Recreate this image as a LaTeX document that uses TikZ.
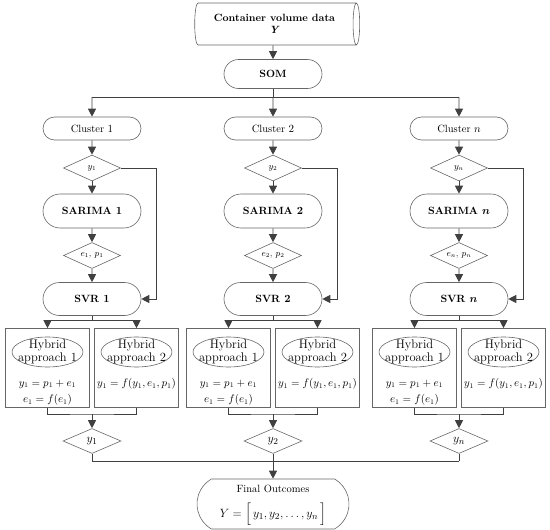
\documentclass[tikz,border=0pt]{standalone}
\usepackage{amsmath, amssymb}
\usepackage{tikz}
\usetikzlibrary{shapes.geometric,shapes.misc,arrows.meta}

\newcommand{\tamtxt}{\fontsize{10.5}{12.5}\selectfont}

\begin{document}
\begin{tikzpicture}[x=1pt,y=-1pt,font=\tamtxt,
  borde/.style={draw=black!60,line width=0.6pt},
  term/.style={borde,rounded rectangle,minimum width=102pt,inner sep=2pt},
  decision/.style={borde,diamond,aspect=2.2,minimum width=57pt,minimum height=26pt,inner sep=0pt},
  hbox/.style={borde,rectangle,minimum width=84pt,minimum height=79pt},
  hyb/.style={borde,ellipse,minimum width=71pt,minimum height=30pt,inner sep=-12pt,
    align=center,font=\fontsize{12.5}{13}\selectfont},
  flecha/.style={draw=black!75,line width=0.9pt,-{Triangle[width=8pt,length=8pt]}},
  linea/.style={draw=black!75,line width=0.9pt}]
  \useasboundingbox (0,0) rectangle (550,530);

  % Datos de entrada y SOM
  \node[borde,cylinder,aspect=0.25,minimum width=42pt,minimum height=165pt,align=center,
    font=\tamtxt\bfseries] (datos) at (274.5,24) {Container volume data\\\textit{Y}};
  \node[term,minimum height=29pt,font=\tamtxt\bfseries] (som) at (273,74) {SOM};
  \draw[flecha] (datos.south -| som) -- (som);

  % Una columna por cluster
  \foreach \i/\cx/\k in {1/92/1, 2/273/2, 3/459/n}{
    \coordinate (bus\i) at (\cx,97);
    \node[term,minimum height=23pt] (cl\i) at (\cx,128.5) {Cluster $\k$};
    \node[decision,font=\fontsize{9}{10}\selectfont] (ya\i) at (\cx,168) {$y_\k$};
    \node[term,minimum height=34pt,font=\tamtxt\bfseries] (sar\i) at (\cx,211) {SARIMA {\boldmath$\k$}};
    \node[decision,font=\fontsize{9}{10}\selectfont] (yb\i) at (\cx,255.5) {$e_\k$, $p_\k$};
    \node[term,minimum height=33pt,font=\tamtxt\bfseries] (svr\i) at (\cx,299) {SVR {\boldmath$\k$}};

    \node[hbox] (ha\i) at ({\cx-44.5},368) {};
    \node[hbox] (hb\i) at ({\cx+44.5},368) {};
    \node[hyb] (ea\i) at ({\cx-44.5},352) {Hybrid\\approach 1};
    \node[hyb] (eb\i) at ({\cx+44.5},352) {Hybrid\\approach 2};
    \node (fa\i) at ({\cx-44.5},384) {$y_1 = p_1 + e_1$};
    \node (fb\i) at ({\cx-44.5},400) {$e_1 = f(e_1)$};
    \node (fc\i) at ({\cx+44.5},384) {$y_1 = f(y_1, e_1, p_1)$};

    \coordinate (mg\i) at (\cx,414);
    \node[decision,minimum width=58pt,minimum height=25pt,font=\fontsize{12.5}{13}\selectfont] (yo\i) at (\cx,441) {$y_\k$};
    \coordinate (bb\i) at (\cx,461);

    \draw[flecha] (bus\i) -- (cl\i);
    \draw[flecha] (cl\i) -- (ya\i);
    \draw[flecha] (ya\i) -- (sar\i);
    \draw[flecha] (sar\i) -- (yb\i);
    \draw[flecha] (yb\i) -- (svr\i);
    \draw[flecha] (ya\i.east) -| ([xshift=15pt]svr\i.east) -- (svr\i.east);
    \draw[flecha] (svr\i.south) -- ++(0,5) -| (ha\i.north);
    \draw[flecha] (svr\i.south) -- ++(0,5) -| (hb\i.north);
    \draw[linea] (ha\i.south) |- (mg\i) -| (hb\i.south);
    \draw[flecha] (mg\i) -- (yo\i);
    \draw[linea] (yo\i) -- (bb\i);
  }

  % Bus superior e inferior
  \draw[linea] (som) -- (som.south |- bus2);
  \draw[linea] (bus1) -- (bus3);
  \draw[linea] (bb1) -- (bb3);

  % Resultado final
  \node[term,rounded rectangle arc length=120,minimum width=156pt,minimum height=50pt] (fin) at (273,504) {};
  \node (fintit) at (273,488.5) {Final Outcomes};
  \node[font=\fontsize{12.5}{14}\selectfont] (finy) at (273,514.5) {$Y = \Big[\, y_1, y_2, \dots, y_n \,\Big]$};
  \draw[flecha] (bb2) -- (fin);
\end{tikzpicture}
\end{document}
